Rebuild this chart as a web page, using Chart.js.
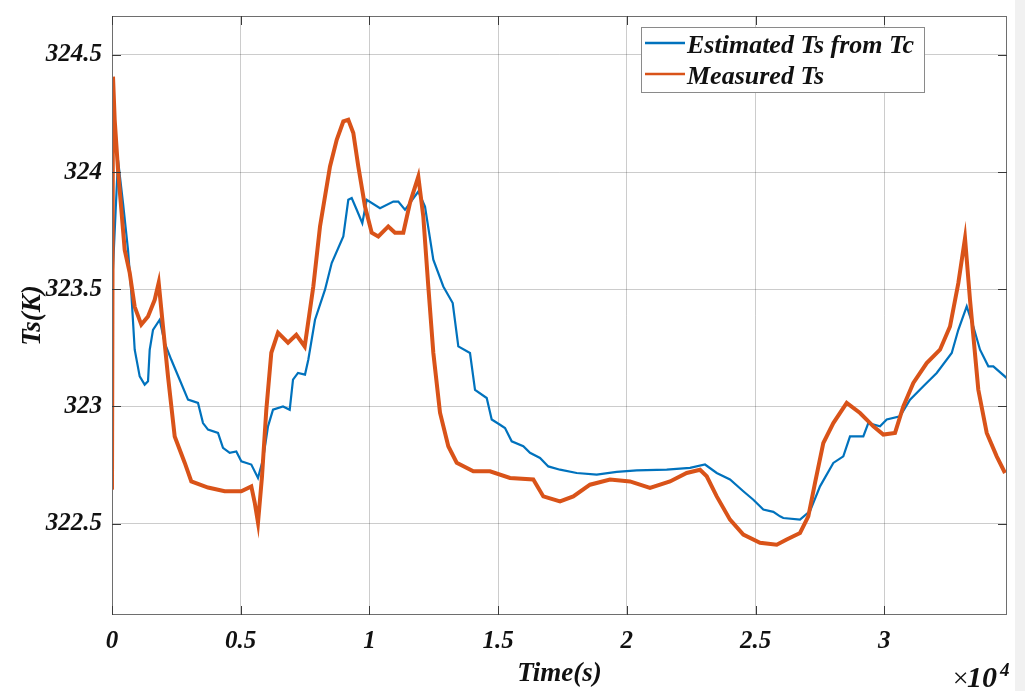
<!DOCTYPE html>
<html>
<head>
<meta charset="utf-8">
<script src="https://cdn.jsdelivr.net/npm/chart.js@4"></script>
<style>
  html, body { margin: 0; padding: 0; }
  body { background: linear-gradient(to right, #ffffff 1015px, #f1f1f1 1015px); }
  #wrap { position: relative; width: 1025px; height: 691px; }
</style>
</head>
<body>
<div id="wrap"><canvas id="tsChart" width="1025" height="691"></canvas></div>
<script>
// Estimated Ts from Tc (time in s, temperature in K)
const estTime = [0, 233, 427, 622, 750, 882, 1076, 1270, 1399, 1465, 1593, 1853, 2047, 2304, 2630, 2953, 3341, 3535, 3730, 4118, 4312, 4573, 4829, 5023, 5412, 5672, 5866, 6061, 6255, 6643, 6904, 7032, 7226, 7498, 7626, 7887, 8275, 8535, 8986, 9180, 9312, 9507, 9724, 9895, 10412, 10929, 11123, 11383, 11900, 12160, 12483, 12871, 13236, 13454, 13908, 14103, 14557, 14751, 15074, 15268, 15528, 15979, 16239, 16628, 16950, 17405, 18054, 18831, 19608, 20385, 21550, 22455, 23038, 23493, 24009, 24526, 24915, 25303, 25692, 25952, 26080, 26729, 27117, 27506, 28023, 28411, 28671, 29188, 29382, 29837, 30097, 30614, 31003, 31520, 32040, 32623, 32879, 33205, 33462, 33722, 34045, 34239, 34759];
const estTs = [323.50, 324.052, 323.869, 323.668, 323.485, 323.242, 323.128, 323.093, 323.107, 323.242, 323.327, 323.370, 323.271, 323.199, 323.114, 323.029, 323.015, 322.929, 322.901, 322.887, 322.823, 322.802, 322.808, 322.766, 322.752, 322.695, 322.773, 322.915, 322.986, 323.000, 322.986, 323.114, 323.143, 323.136, 323.199, 323.370, 323.498, 323.612, 323.725, 323.882, 323.889, 323.839, 323.782, 323.882, 323.846, 323.874, 323.874, 323.839, 323.917, 323.853, 323.626, 323.512, 323.441, 323.256, 323.228, 323.071, 323.036, 322.944, 322.922, 322.908, 322.851, 322.830, 322.802, 322.780, 322.744, 322.730, 322.716, 322.709, 322.721, 322.727, 322.730, 322.738, 322.752, 322.716, 322.688, 322.638, 322.602, 322.560, 322.550, 322.531, 322.524, 322.517, 322.553, 322.659, 322.759, 322.787, 322.872, 322.872, 322.929, 322.915, 322.944, 322.958, 323.029, 323.086, 323.143, 323.228, 323.327, 323.427, 323.341, 323.242, 323.171, 323.171, 323.121];

// Measured Ts
const measTime = [0, 39, 105, 233, 493, 688, 882, 1138, 1399, 1659, 1814, 1981, 2176, 2436, 2824, 3081, 3730, 4378, 5023, 5412, 5544, 5672, 5828, 5995, 6189, 6449, 6838, 7160, 7486, 7564, 7821, 8081, 8469, 8730, 8986, 9180, 9375, 9569, 9829, 10089, 10346, 10734, 10995, 11317, 11577, 11900, 12094, 12288, 12483, 12743, 13065, 13391, 14037, 14685, 15462, 16367, 16756, 17405, 17921, 18570, 19347, 20124, 20901, 21678, 22327, 22844, 23104, 23493, 24009, 24526, 25175, 25824, 26212, 26729, 27051, 27312, 27634, 28023, 28543, 29060, 29577, 29965, 30420, 30742, 31131, 31651, 32168, 32556, 32879, 33139, 33333, 33656, 33982, 34370, 34693];
const measTs = [322.645, 324.407, 324.223, 324.010, 323.668, 323.570, 323.425, 323.349, 323.384, 323.455, 323.528, 323.341, 323.128, 322.872, 322.760, 322.680, 322.654, 322.638, 322.638, 322.659, 322.590, 322.504, 322.702, 322.986, 323.229, 323.315, 323.272, 323.306, 323.256, 323.315, 323.512, 323.768, 324.024, 324.138, 324.216, 324.223, 324.167, 324.024, 323.853, 323.741, 323.725, 323.768, 323.741, 323.741, 323.869, 323.981, 323.810, 323.512, 323.229, 322.973, 322.830, 322.760, 322.723, 322.723, 322.695, 322.688, 322.616, 322.595, 322.616, 322.666, 322.688, 322.680, 322.652, 322.680, 322.716, 322.730, 322.702, 322.616, 322.517, 322.453, 322.418, 322.410, 322.432, 322.460, 322.531, 322.674, 322.844, 322.929, 323.015, 322.972, 322.915, 322.880, 322.887, 323.000, 323.100, 323.185, 323.242, 323.341, 323.526, 323.718, 323.455, 323.071, 322.887, 322.787, 322.716];

const xTicks = [0, 5000, 10000, 15000, 20000, 25000, 30000];
const yTicks = [322.5, 323, 323.5, 324, 324.5];
const seriesNames = ['Estimated Ts from Tc', 'Measured Ts'];
const seriesColors = ['#0072BD', '#D95319'];

const X_MIN = 0, X_MAX = 34770;
const Y_MIN = 322.11, Y_MAX = 324.666;
const FONT = '"Liberation Serif", "Times New Roman", serif';

function toPoints(xs, ys) {
    return xs.map((x, i) => ({ x: x, y: ys[i] }));
}

// box, inward ticks, legend, axis titles
const decorPlugin = {
    id: 'decor',
    afterDraw(chart) {
        const ctx = chart.ctx;
        const a = chart.chartArea;
        const xs = chart.scales.x, ys = chart.scales.y;
        ctx.save();

        // axes box
        ctx.strokeStyle = '#6e6e6e';
        ctx.lineWidth = 1;
        ctx.strokeRect(a.left + 0.5, a.top + 0.5, a.right - a.left - 1, a.bottom - a.top - 1);

        // inward tick marks
        ctx.strokeStyle = '#3a3a3a';
        ctx.beginPath();
        yTicks.forEach(v => {
            const y = Math.round(ys.getPixelForValue(v)) + 0.5;
            ctx.moveTo(a.left, y); ctx.lineTo(a.left + 9, y);
            ctx.moveTo(a.right, y); ctx.lineTo(a.right - 9, y);
        });
        xTicks.forEach(v => {
            const x = Math.round(xs.getPixelForValue(v)) + 0.5;
            ctx.moveTo(x, a.bottom); ctx.lineTo(x, a.bottom - 9);
            ctx.moveTo(x, a.top); ctx.lineTo(x, a.top + 9);
        });
        ctx.stroke();

        // legend
        const lx = 641, ly = 27, lw = 283, lh = 65;
        ctx.fillStyle = '#ffffff';
        ctx.fillRect(lx, ly, lw, lh);
        ctx.strokeStyle = '#8a8a8a';
        ctx.strokeRect(lx + 0.5, ly + 0.5, lw, lh);
        ctx.font = 'italic bold 26px ' + FONT;
        ctx.textBaseline = 'alphabetic';
        ctx.textAlign = 'left';
        const rows = [43, 74];
        seriesNames.forEach((name, i) => {
            ctx.strokeStyle = seriesColors[i];
            ctx.lineWidth = 2.5;
            ctx.beginPath();
            ctx.moveTo(lx + 4, rows[i]); ctx.lineTo(lx + 44, rows[i]);
            ctx.stroke();
            ctx.fillStyle = '#111111';
            ctx.fillText(name, lx + 46, rows[i] + 10);
        });

        // axis titles
        ctx.fillStyle = '#111111';
        ctx.font = 'italic bold 27px ' + FONT;
        ctx.textAlign = 'center';
        ctx.fillText('Time(s)', (a.left + a.right) / 2, 681);
        ctx.save();
        ctx.translate(40, (a.top + a.bottom) / 2);
        ctx.rotate(-Math.PI / 2);
        ctx.fillText('Ts(K)', 0, 0);
        ctx.restore();

        // exponent label
        ctx.textAlign = 'left';
        ctx.font = 'italic 28px ' + FONT;
        ctx.fillText('\u00d7', 951, 687);
        ctx.font = 'italic bold 30px ' + FONT;
        ctx.fillText('10', 967, 687);
        ctx.font = 'italic bold 19px ' + FONT;
        ctx.fillText('4', 1000, 676);

        ctx.restore();
    }
};

new Chart(document.getElementById('tsChart'), {
    type: 'line',
    data: {
        datasets: [{
            label: seriesNames[0],
            data: toPoints(estTime, estTs),
            borderColor: seriesColors[0],
            borderWidth: 2.2,
            pointRadius: 0,
            tension: 0,
            order: 2
        }, {
            label: seriesNames[1],
            data: toPoints(measTime, measTs),
            borderColor: seriesColors[1],
            borderWidth: 4,
            pointRadius: 0,
            tension: 0,
            order: 1
        }]
    },
    options: {
        responsive: false,
        animation: false,
        layout: { padding: { left: 0, right: 18, top: 16, bottom: 0 } },
        plugins: {
            legend: { display: false },
            tooltip: { enabled: false }
        },
        scales: {
            x: {
                type: 'linear',
                min: X_MIN,
                max: X_MAX,
                afterBuildTicks: s => { s.ticks = xTicks.map(v => ({ value: v })); },
                afterFit: s => { s.height = 76; s.paddingLeft = 0; s.paddingRight = 0; },
                border: { display: false },
                grid: { color: 'rgba(0,0,0,0.2)', drawTicks: false, lineWidth: 1 },
                ticks: {
                    padding: 12,
                    maxRotation: 0,
                    color: '#111111',
                    font: { family: FONT, size: 25, style: 'italic', weight: 'bold' },
                    callback: v => String(v / 10000)
                }
            },
            y: {
                type: 'linear',
                min: Y_MIN,
                max: Y_MAX,
                afterBuildTicks: s => { s.ticks = yTicks.map(v => ({ value: v })); },
                afterFit: s => { s.width = 112; s.paddingTop = 0; s.paddingBottom = 0; },
                border: { display: false },
                grid: { color: 'rgba(0,0,0,0.2)', drawTicks: false, lineWidth: 1 },
                ticks: {
                    padding: 10,
                    color: '#111111',
                    font: { family: FONT, size: 25, style: 'italic', weight: 'bold' },
                    callback: v => String(v)
                }
            }
        }
    },
    plugins: [decorPlugin]
});
</script>
</body>
</html>
